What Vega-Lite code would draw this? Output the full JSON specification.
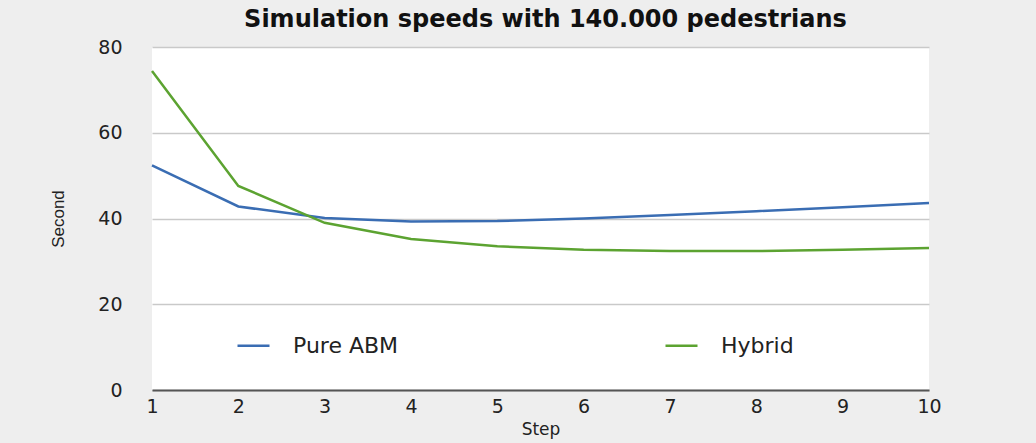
{
  "$schema": "https://vega.github.io/schema/vega-lite/v6.json",
  "width": 777,
  "height": 343,
  "autosize": {"type": "none"},
  "padding": {"left": 152, "top": 47, "right": 107, "bottom": 53},
  "background": "#eeeeee",
  "title": {
    "text": "Simulation speeds with 140.000 pedestrians",
    "font": "DejaVu Sans",
    "fontSize": 24,
    "fontWeight": "bold",
    "color": "#111111",
    "offset": 6,
    "dx": 5
  },
  "data": {
    "values": [
      {"step": 1, "series": "Pure ABM", "second": 52.4},
      {"step": 2, "series": "Pure ABM", "second": 42.8},
      {"step": 3, "series": "Pure ABM", "second": 40.1},
      {"step": 4, "series": "Pure ABM", "second": 39.3},
      {"step": 5, "series": "Pure ABM", "second": 39.4},
      {"step": 6, "series": "Pure ABM", "second": 40.0},
      {"step": 7, "series": "Pure ABM", "second": 40.8},
      {"step": 8, "series": "Pure ABM", "second": 41.7},
      {"step": 9, "series": "Pure ABM", "second": 42.6},
      {"step": 10, "series": "Pure ABM", "second": 43.6},
      {"step": 1, "series": "Hybrid", "second": 74.4},
      {"step": 2, "series": "Hybrid", "second": 47.6},
      {"step": 3, "series": "Hybrid", "second": 39.0},
      {"step": 4, "series": "Hybrid", "second": 35.2},
      {"step": 5, "series": "Hybrid", "second": 33.5},
      {"step": 6, "series": "Hybrid", "second": 32.7},
      {"step": 7, "series": "Hybrid", "second": 32.4},
      {"step": 8, "series": "Hybrid", "second": 32.4},
      {"step": 9, "series": "Hybrid", "second": 32.7},
      {"step": 10, "series": "Hybrid", "second": 33.1}
    ]
  },
  "mark": {"type": "line", "strokeWidth": 2.5},
  "encoding": {
    "x": {
      "field": "step",
      "type": "quantitative",
      "scale": {"domain": [1, 10], "nice": false, "zero": false},
      "axis": {
        "title": "Step",
        "values": [1, 2, 3, 4, 5, 6, 7, 8, 9, 10],
        "grid": false,
        "ticks": false,
        "domain": true,
        "domainColor": "#555555",
        "domainWidth": 2,
        "labelFont": "DejaVu Sans",
        "labelFontSize": 19,
        "labelColor": "#222222",
        "labelPadding": 7,
        "labelFlush": false,
        "titleFont": "DejaVu Sans",
        "titleFontSize": 17,
        "titleFontWeight": "normal",
        "titleColor": "#222222",
        "titlePadding": 5
      }
    },
    "y": {
      "field": "second",
      "type": "quantitative",
      "scale": {"domain": [0, 80], "nice": false},
      "axis": {
        "title": "Second",
        "values": [0, 20, 40, 60, 80],
        "grid": true,
        "gridColor": "#c9c9c9",
        "gridWidth": 1.5,
        "ticks": false,
        "domain": false,
        "labelFont": "DejaVu Sans",
        "labelFontSize": 19,
        "labelColor": "#222222",
        "labelPadding": 30,
        "titleFont": "Liberation Sans",
        "titleFontSize": 17,
        "titleFontWeight": "normal",
        "titleColor": "#222222",
        "titlePadding": 30
      }
    },
    "color": {
      "field": "series",
      "type": "nominal",
      "sort": ["Pure ABM", "Hybrid"],
      "scale": {"domain": ["Pure ABM", "Hybrid"], "range": ["#3a6db3", "#5ca331"]},
      "legend": {
        "title": null,
        "orient": "none",
        "legendX": 84,
        "legendY": 281,
        "direction": "horizontal",
        "columns": 2,
        "columnPadding": 261,
        "symbolType": "stroke",
        "symbolStrokeWidth": 2.5,
        "symbolSize": 1024,
        "labelFont": "DejaVu Sans",
        "labelFontSize": 22,
        "labelColor": "#222222",
        "labelOffset": 22
      }
    }
  },
  "config": {
    "view": {"fill": "white", "stroke": null}
  }
}
